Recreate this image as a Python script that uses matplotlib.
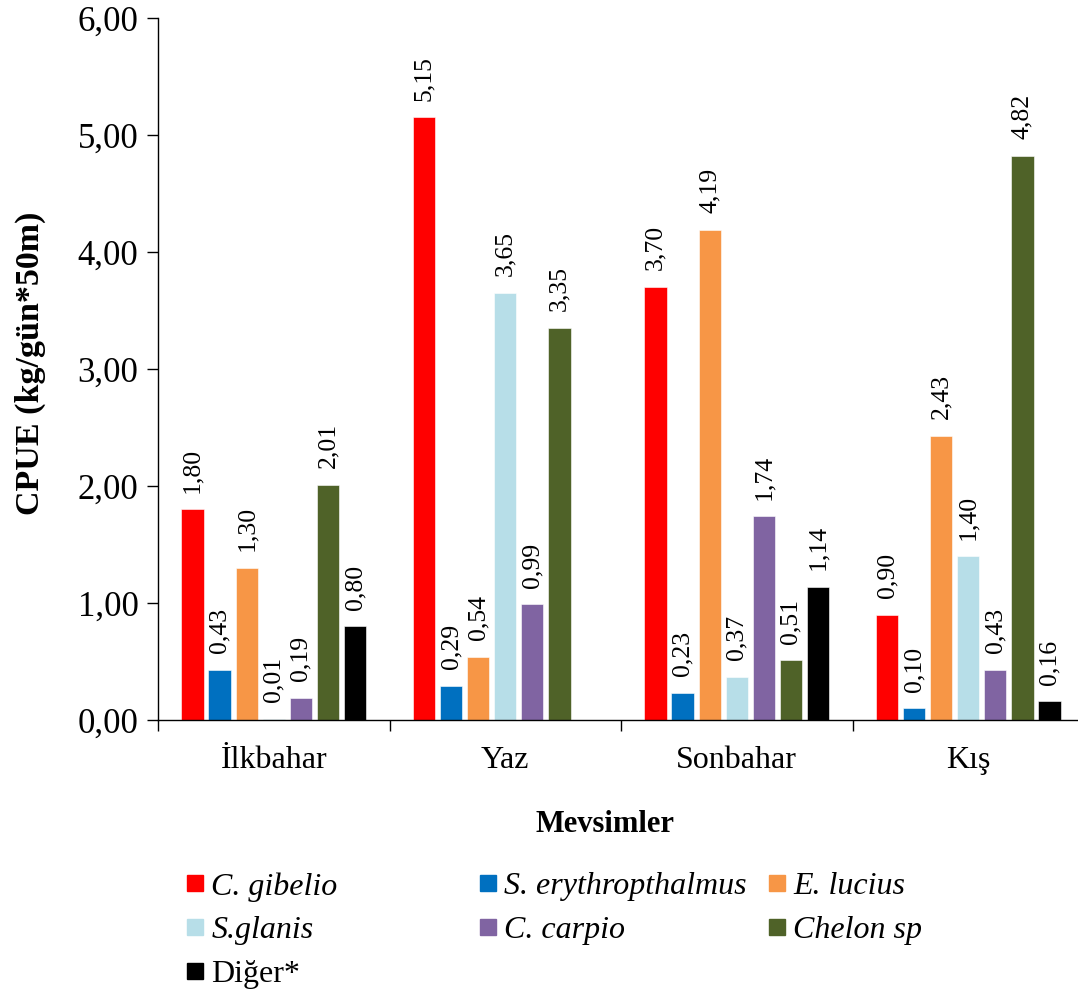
import numpy as np
import matplotlib
matplotlib.use('Agg')
import matplotlib.pyplot as plt
from matplotlib.lines import Line2D

plt.rcParams['font.family'] = ['Liberation Serif', 'DejaVu Serif']

# donnees
mevsimler = ['İlkbahar', 'Yaz', 'Sonbahar', 'Kış']
turler = ['C. gibelio', 'S. erythropthalmus', 'E. lucius', 'S.glanis',
          'C. carpio', 'Chelon sp', 'Diğer*']
c_gibelio = [1.80, 5.15, 3.70, 0.90]
s_eryth = [0.43, 0.29, 0.23, 0.10]
e_lucius = [1.30, 0.54, 4.19, 2.43]
s_glanis = [0.01, 3.65, 0.37, 1.40]
c_carpio = [0.19, 0.99, 1.74, 0.43]
chelon = [2.01, 3.35, 0.51, 4.82]
diger = [0.80, np.nan, 1.14, 0.16]
series = [c_gibelio, s_eryth, e_lucius, s_glanis, c_carpio, chelon, diger]
couleurs = ['#FF0000', '#0070C0', '#F79646', '#B7DEE8', '#8064A2',
            '#4F6228', '#000000']
italique = [True, True, True, True, True, True, False]

W, H = 1078, 991
fig = plt.figure(figsize=(W / 100, H / 100), dpi=100)
ax = fig.add_axes([158 / W, (H - 720) / H, 926 / W, 702 / H])

pas = 0.117
largeur = 0.096
x = np.arange(len(mevsimler))
for i, (vals, c) in enumerate(zip(series, couleurs)):
    pos = x + (i - 3) * pas
    ax.bar(pos, vals, largeur, color=c, edgecolor='white', linewidth=0.4)
    for xp, v in zip(pos, vals):
        if np.isnan(v):
            continue
        ax.annotate(f'{v:.2f}'.replace('.', ','), (xp, v), xytext=(0, 12),
                    textcoords='offset points', rotation=90,
                    ha='center', va='bottom', fontsize=18.5)

ax.set_xlim(-0.5, 3.5)
ax.set_ylim(0, 6)
ax.set_yticks(np.arange(0, 6.01, 1))
ax.set_yticklabels([f'{t:.2f}'.replace('.', ',') for t in np.arange(0, 6.01, 1)])
ax.set_xticks(np.arange(-0.5, 3.6, 1))
ax.set_xticklabels([])
ax.set_xticks(x, minor=True)
ax.set_xticklabels(mevsimler, minor=True)
ax.tick_params(axis='x', which='minor', length=0, labelsize=23, pad=19)
ax.tick_params(axis='x', which='major', direction='out', length=8, width=1)
ax.tick_params(axis='y', direction='out', length=8, width=1, labelsize=25, pad=6)
for s in ['top', 'right']:
    ax.spines[s].set_visible(False)
ax.spines['left'].set_linewidth(1)
ax.spines['bottom'].set_linewidth(1)

fig.text(30 / W, 1 - 363 / H, 'CPUE (kg/gün*50m)', rotation=90,
         ha='center', va='center', fontsize=24.5, fontweight='bold')
fig.text(605 / W, 1 - 825 / H, 'Mevsimler', ha='center', va='center',
         fontsize=22, fontweight='bold')

# legende : trois colonnes posees a la main
colonnes = [[0, 3, 6], [1, 4], [2, 5]]
x_col = [184, 477, 766]
for col, xc in zip(colonnes, x_col):
    handles = [Line2D([], [], marker='s', ls='', color=couleurs[k],
                      markersize=11) for k in col]
    leg = fig.legend(handles, [turler[k] for k in col], loc='upper left',
                     bbox_to_anchor=(xc / W, 1 - 872 / H), frameon=False,
                     fontsize=23, handlelength=0.7, handletextpad=0.15,
                     labelspacing=0.45, borderpad=0, borderaxespad=0)
    for t, k in zip(leg.get_texts(), col):
        if italique[k]:
            t.set_fontstyle('italic')

fig.savefig('out.png', dpi=100)
